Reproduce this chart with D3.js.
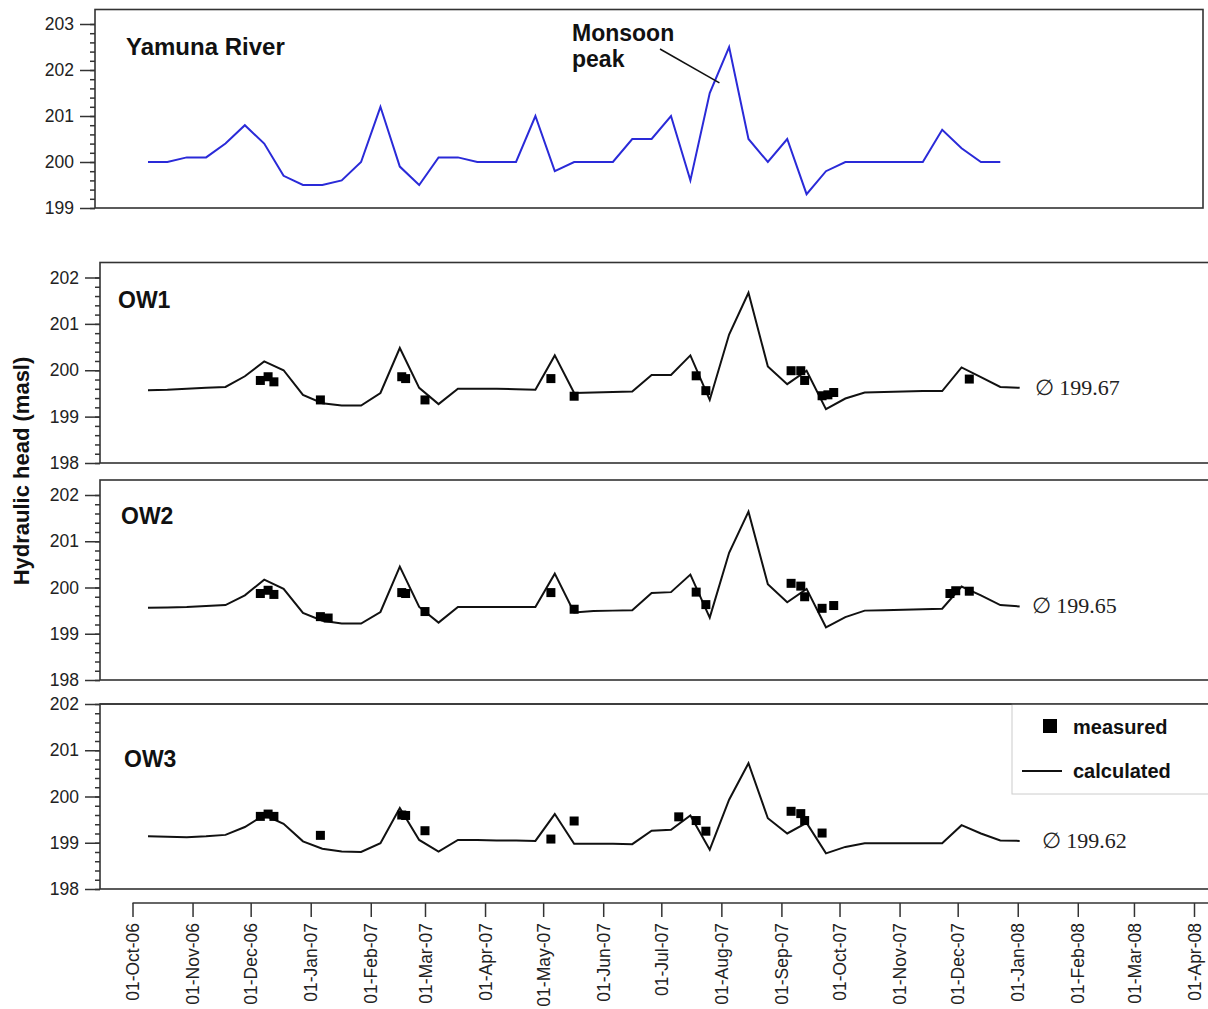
<!DOCTYPE html>
<html>
<head>
<meta charset="utf-8">
<script src="https://cdn.jsdelivr.net/npm/d3@7"></script>
<style>
  body { margin: 0; background: #fff; }
  svg { font-family: "Liberation Sans", Arial, sans-serif; }
</style>
</head>
<body>
<div id="chart"></div>
<script>
// dates of the 10-day model / river series
var calcDates = ["2006-10-09","2006-10-19","2006-10-29","2006-11-08","2006-11-18","2006-11-28",
  "2006-12-08","2006-12-18","2006-12-28","2007-01-07","2007-01-17","2007-01-27","2007-02-06",
  "2007-02-16","2007-02-26","2007-03-08","2007-03-18","2007-03-28","2007-04-07","2007-04-17",
  "2007-04-27","2007-05-07","2007-05-17","2007-05-27","2007-06-06","2007-06-16","2007-06-26",
  "2007-07-06","2007-07-16","2007-07-26","2007-08-05","2007-08-15","2007-08-25","2007-09-04",
  "2007-09-14","2007-09-24","2007-10-04","2007-10-14","2007-10-24","2007-11-03","2007-11-13",
  "2007-11-23","2007-12-03","2007-12-13","2007-12-23","2008-01-02"];

var riverHead = [200.0,200.0,200.1,200.1,200.4,200.8,200.4,199.7,199.5,199.5,
  199.6,200.0,201.2,199.9,199.5,200.1,200.1,200.0,200.0,200.0,
  201.0,199.8,200.0,200.0,200.0,200.5,200.5,201.0,199.6,201.5,
  202.5,200.5,200.0,200.5,199.3,199.8,200.0,200.0,200.0,200.0,
  200.0,200.7,200.3,200.0,200.0];

var ow1Calc = [199.57,199.58,199.60,199.62,199.64,199.87,200.19,200.00,199.47,199.29,
  199.24,199.24,199.51,200.48,199.62,199.27,199.60,199.60,199.60,199.59,
  199.58,200.32,199.51,199.52,199.53,199.54,199.90,199.90,200.32,199.36,
  200.77,201.67,200.08,199.70,199.99,199.16,199.39,199.52,199.53,199.54,
  199.55,199.55,200.06,199.85,199.64,199.62];

var ow2Calc = [199.56,199.57,199.58,199.60,199.62,199.83,200.17,199.97,199.45,199.28,
  199.22,199.22,199.47,200.45,199.58,199.24,199.58,199.58,199.58,199.58,
  199.58,200.30,199.46,199.49,199.50,199.51,199.88,199.90,200.28,199.35,
  200.75,201.64,200.07,199.68,199.97,199.14,199.36,199.50,199.51,199.52,
  199.53,199.54,200.02,199.83,199.62,199.59];

var ow3Calc = [199.14,199.13,199.12,199.14,199.17,199.34,199.60,199.41,199.03,198.87,
  198.81,198.80,198.99,199.75,199.06,198.81,199.06,199.06,199.05,199.05,
  199.04,199.62,198.98,198.98,198.98,198.97,199.26,199.28,199.59,198.85,
  199.93,200.72,199.53,199.20,199.43,198.77,198.91,198.99,198.99,198.99,
  198.99,198.99,199.38,199.20,199.05,199.04];

var ow1MeasDates = ["2006-12-06","2006-12-10","2006-12-13","2007-01-06","2007-02-17","2007-02-19",
  "2007-03-01","2007-05-05","2007-05-17","2007-07-19","2007-07-24","2007-09-06","2007-09-11",
  "2007-09-13","2007-09-22","2007-09-25","2007-09-28","2007-12-07"];
var ow1Meas = [199.78,199.86,199.75,199.36,199.86,199.82,199.36,199.82,199.44,199.88,199.56,
  199.99,199.99,199.78,199.45,199.47,199.52,199.81];

var ow2MeasDates = ["2006-12-06","2006-12-10","2006-12-13","2007-01-06","2007-01-10","2007-02-17",
  "2007-02-19","2007-03-01","2007-05-05","2007-05-17","2007-07-19","2007-07-24","2007-09-06",
  "2007-09-11","2007-09-13","2007-09-22","2007-09-28","2007-11-27","2007-11-30","2007-12-07"];
var ow2Meas = [199.87,199.94,199.85,199.37,199.34,199.89,199.87,199.48,199.89,199.53,199.90,
  199.63,200.09,200.03,199.80,199.55,199.61,199.87,199.93,199.92];

var ow3MeasDates = ["2006-12-06","2006-12-10","2006-12-13","2007-01-06","2007-02-17","2007-02-19",
  "2007-03-01","2007-05-05","2007-05-17","2007-07-10","2007-07-19","2007-07-24","2007-09-06",
  "2007-09-11","2007-09-13","2007-09-22"];
var ow3Meas = [199.57,199.62,199.57,199.16,199.60,199.59,199.26,199.08,199.47,199.56,199.48,
  199.25,199.68,199.63,199.48,199.21];

var wellNames = ["OW1", "OW2", "OW3"];
var avgLabels = ["\u2205 199.67", "\u2205 199.65", "\u2205 199.62"];
var riverTicks = [199, 200, 201, 202, 203];
var wellTicks = [198, 199, 200, 201, 202];

var width = 1208, height = 1009;
var parse = d3.utcParse("%Y-%m-%d");

var svg = d3.select("#chart").append("svg")
  .attr("width", width)
  .attr("height", height);

var x = d3.scaleUtc()
  .domain([parse("2006-10-01"), parse("2008-04-01")])
  .range([132.5, 1194]);

// layout of the four stacked panels
var panels = [
  { title: "Yamuna River", left: 95, right: 1203, top: 9.5, bottom: 208, domain: [199, 203], range: [208, 24], ticks: riverTicks, titleY: 55, titleX: 126 },
  { title: wellNames[0], left: 100, right: 1215, top: 262.5, bottom: 463, domain: [198, 202], range: [463, 277.5], ticks: wellTicks, titleY: 308, titleX: 118,
    calc: ow1Calc, measDates: ow1MeasDates, meas: ow1Meas, avg: avgLabels[0], avgDx: 15 },
  { title: wellNames[1], left: 100, right: 1215, top: 480, bottom: 680, domain: [198, 202], range: [680, 495], ticks: wellTicks, titleY: 524, titleX: 121,
    calc: ow2Calc, measDates: ow2MeasDates, meas: ow2Meas, avg: avgLabels[1], avgDx: 12 },
  { title: wellNames[2], left: 100, right: 1215, top: 704, bottom: 889, domain: [198, 202], range: [889, 704], ticks: wellTicks, titleY: 767, titleX: 124,
    calc: ow3Calc, measDates: ow3MeasDates, meas: ow3Meas, avg: avgLabels[2], avgDx: 22 }
];

panels.forEach(function(p, i) {
  var y = d3.scaleLinear().domain(p.domain).range(p.range);
  var g = svg.append("g").attr("class", "panel");

  g.append("rect")
    .attr("x", p.left).attr("y", p.top)
    .attr("width", p.right - p.left).attr("height", p.bottom - p.top)
    .attr("fill", "none").attr("stroke", "#333").attr("stroke-width", 1.6);

  // minor ticks every 0.2
  var minor = d3.range(p.domain[0], p.domain[1] + 0.001, 0.2);
  g.append("g")
    .attr("transform", "translate(" + p.left + ",0)")
    .call(d3.axisLeft(y).tickValues(minor).tickSize(5).tickFormat(""))
    .call(function(a) { a.select(".domain").remove(); })
    .selectAll("line").attr("stroke", "#333").attr("stroke-width", 1.5);

  g.append("g")
    .attr("transform", "translate(" + p.left + ",0)")
    .call(d3.axisLeft(y).tickValues(p.ticks).tickSize(15).tickPadding(6).tickFormat(d3.format("d")))
    .call(function(a) { a.select(".domain").remove(); })
    .call(function(a) {
      a.selectAll("line").attr("stroke", "#333").attr("stroke-width", 1.5);
      a.selectAll("text").attr("font-size", 17.5).attr("fill", "#222")
        .attr("font-family", "Liberation Sans, Arial, sans-serif");
    });

  g.append("text")
    .attr("x", p.titleX).attr("y", p.titleY)
    .attr("font-size", i == 0 ? 24 : 23).attr("font-weight", "bold").attr("fill", "#111")
    .text(p.title);

  if (i == 0) {
    var riverLine = d3.line()
      .x(function(d, k) { return x(parse(calcDates[k])); })
      .y(function(d) { return y(d); });
    g.append("path")
      .datum(riverHead)
      .attr("d", riverLine)
      .attr("fill", "none").attr("stroke", "#2a2ad8").attr("stroke-width", 2);

    // Monsoon peak annotation
    var ann = g.append("text").attr("font-size", 23).attr("font-weight", "bold").attr("fill", "#111");
    ann.append("tspan").attr("x", 572).attr("y", 41).text("Monsoon");
    ann.append("tspan").attr("x", 572).attr("y", 67).text("peak");
    g.append("line")
      .attr("x1", 660).attr("y1", 49)
      .attr("x2", x(parse("2007-07-31"))).attr("y2", y(201.72))
      .attr("stroke", "#111").attr("stroke-width", 1.5);
    return;
  }

  var calcLine = d3.line()
    .x(function(d, k) { return x(parse(calcDates[k])); })
    .y(function(d) { return y(d); });
  g.append("path")
    .datum(p.calc)
    .attr("d", calcLine)
    .attr("fill", "none").attr("stroke", "#111").attr("stroke-width", 2);

  g.selectAll(".meas")
    .data(p.meas)
    .enter().append("rect")
    .attr("class", "meas")
    .attr("x", function(d, k) { return x(parse(p.measDates[k])) - 4.5; })
    .attr("y", function(d) { return y(d) - 4.5; })
    .attr("width", 9).attr("height", 9)
    .attr("fill", "#000");

  var last = p.calc.length - 1;
  g.append("text")
    .attr("x", x(parse(calcDates[last])) + p.avgDx)
    .attr("y", y(p.calc[last]) + 7)
    .attr("font-family", "Liberation Serif, Times New Roman, serif")
    .attr("font-size", 22).attr("fill", "#222")
    .text(p.avg);

  if (i == 3) {
    var lg = g.append("g");
    lg.append("rect")
      .attr("x", 1012).attr("y", p.top)
      .attr("width", 210).attr("height", 90)
      .attr("fill", "#fff").attr("stroke", "#ccc").attr("stroke-width", 1);
    lg.append("rect").attr("x", 1043).attr("y", 719).attr("width", 14).attr("height", 14).attr("fill", "#000");
    lg.append("text").attr("x", 1073).attr("y", 734)
      .attr("font-size", 20).attr("font-weight", "bold").attr("fill", "#111").text("measured");
    lg.append("line").attr("x1", 1022).attr("x2", 1062).attr("y1", 771).attr("y2", 771)
      .attr("stroke", "#111").attr("stroke-width", 2);
    lg.append("text").attr("x", 1073).attr("y", 778)
      .attr("font-size", 20).attr("font-weight", "bold").attr("fill", "#111").text("calculated");
    // redraw frame top over legend border
    g.append("line").attr("x1", p.left).attr("x2", p.right).attr("y1", p.top).attr("y2", p.top)
      .attr("stroke", "#333").attr("stroke-width", 1.6);
  }
});

// y axis title
svg.append("text")
  .attr("transform", "translate(29,471) rotate(-90)")
  .attr("text-anchor", "middle")
  .attr("font-size", 22).attr("font-weight", "bold").attr("fill", "#111")
  .text("Hydraulic head (masl)");

// shared time axis
var xAxis = d3.axisBottom(x)
  .ticks(d3.utcMonth.every(1))
  .tickSize(14)
  .tickFormat(d3.utcFormat("%d-%b-%y"));

var xg = svg.append("g")
  .attr("class", "x axis")
  .attr("transform", "translate(0,903)")
  .call(xAxis);
xg.select(".domain").attr("d", "M132.5,0H1210").attr("stroke", "#333").attr("stroke-width", 1.6);
xg.selectAll("line").attr("stroke", "#333").attr("stroke-width", 1.5);
xg.selectAll("text")
  .attr("font-size", 17.5).attr("fill", "#222")
  .attr("font-family", "Liberation Sans, Arial, sans-serif")
  .attr("text-anchor", "end")
  .attr("transform", "rotate(-90)")
  .attr("x", -20).attr("y", 0).attr("dy", "0.35em");
</script>
</body>
</html>
